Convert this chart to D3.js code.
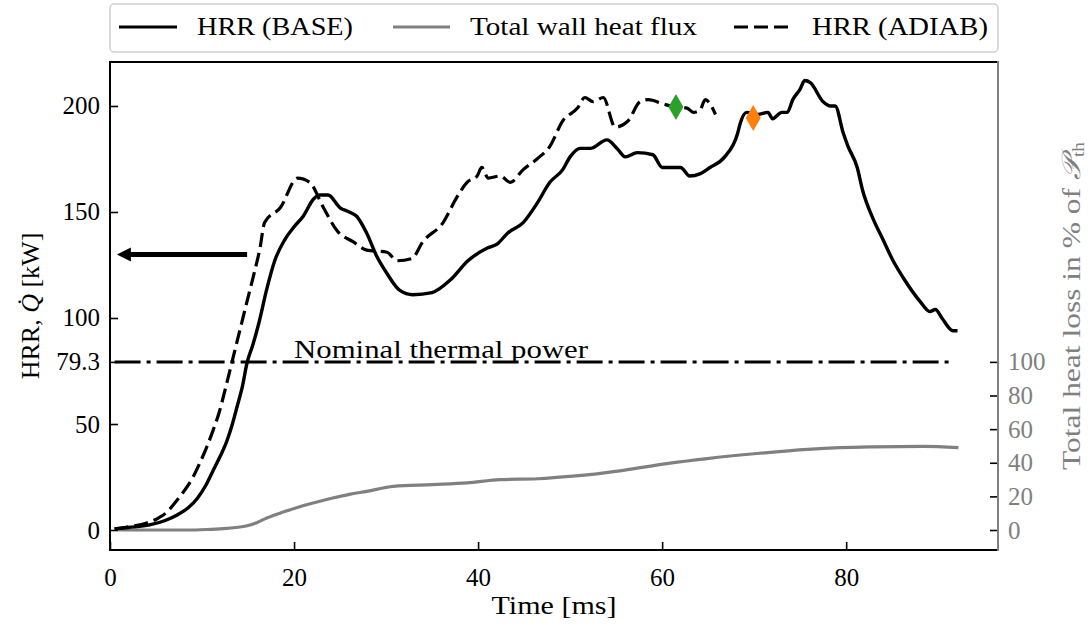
<!DOCTYPE html>
<html>
<head>
<meta charset="utf-8">
<script src="https://cdn.jsdelivr.net/npm/d3@7"></script>
<style>
  body { margin: 0; background: #fff; }
  text { font-family: "Liberation Serif", "DejaVu Serif", serif; }
</style>
</head>
<body>
<svg id="chart" width="1091" height="627"></svg>
<script>
// HRR of the BASE case [kW]
var baseT = [0.5, 2, 4.3, 6, 7.3, 8.5, 9.5, 10.4, 11.2, 12, 12.7, 13.3, 13.8, 14.4, 14.9, 15.5, 16.2, 17.0, 17.9, 19.0, 20.0, 21.0, 22.1, 22.8, 23.7, 25.0, 26.0, 26.8, 27.9, 29.0, 30.1, 31.5, 32.9, 35.0, 37.0, 38.9, 41.0, 42.1, 43.2, 44.9, 46.4, 47.8, 49.2, 50.0, 51.1, 52.2, 54.0, 55.1, 56.0, 57.3, 59.0, 60.0, 62.0, 63.0, 64.1, 65.2, 66.8, 68.2, 68.5, 69.2, 70.4, 71.5, 72.0, 73.0, 73.6, 74.2, 75.0, 75.5, 76.1, 77.5, 78.3, 78.8, 79.7, 80.2, 81.2, 81.8, 82.8, 84.0, 85.1, 86.2, 88.0, 89.1, 89.7, 90.4, 91.6, 92.1]
var baseV = [0.5, 1.2, 2.4, 4.5, 7.1, 10.5, 15, 21, 28, 35, 42, 50, 58, 68, 79, 87, 98, 113, 127, 137, 143, 148, 156, 158, 158, 152, 150, 148, 140, 129, 121, 113, 111, 112, 118, 127, 133, 135, 140, 145, 154, 164, 170, 176, 180, 180, 184, 180, 176, 178, 177, 171, 171, 167, 168, 171, 176, 187, 192, 197, 196, 197, 194, 197, 197, 203, 208, 212, 211, 202, 200, 200, 187, 181, 171, 160, 148, 137, 127, 119, 108, 103, 104, 100, 94, 94]

// HRR of the adiabatic case [kW]
var adiabT = [0.5, 2, 4.0, 5.2, 6.2, 7.0, 7.9, 8.9, 9.8, 10.5, 11.2, 11.9, 12.5, 13.3, 14.1, 14.9, 15.6, 16.3, 16.8, 18.5, 20.4, 21.7, 23.2, 24.7, 26.4, 27.9, 30.1, 31.2, 32.8, 34.0, 36.2, 37.7, 38.8, 39.9, 40.4, 41.1, 42.4, 43.5, 44.9, 46.4, 47.8, 49.2, 50.8, 51.6, 52.5, 53.6, 54.9, 56.3, 57.6, 58.5, 60.1, 60.9, 62.7, 63.4, 64.1, 64.7, 65.2, 65.8]
var adiabV = [0.5, 1.5, 3.3, 5.5, 8.5, 12.5, 17.5, 24, 32, 39, 47, 56, 66, 80, 94, 108, 120, 133, 145, 152, 166, 164, 152, 141, 136, 132, 131, 127, 128, 136, 145, 157, 164, 167, 171, 166, 167, 164, 170, 175, 181, 193, 199, 204, 202, 204, 190, 193, 202, 203, 201, 200, 199, 197, 198, 203, 201, 196]

// total wall heat loss [% of nominal power]
var wallT = [0.9, 5, 8.4, 10.5, 12.3, 13.7, 14.9, 16, 17.1, 18.9, 20.7, 22.5, 24.2, 26, 27.9, 30.8, 35.1, 38.8, 42.4, 46.5, 50.3, 55.8, 60.5, 64.9, 70.3, 75.8, 79.3, 82.9, 88.4, 92.2]
var wallP = [0, 0, 0, 0.3, 0.8, 1.5, 2.5, 4.5, 7.3, 10.8, 14, 16.7, 19, 21.2, 23, 26, 27, 28, 30, 30.5, 32, 35.5, 39.5, 42.5, 45.5, 48, 49, 49.5, 49.8, 49]

var nominalPower = 79.3
var nominalRange = [0.5, 91.5]
var markerGreen = [61.5, 199.5]
var markerOrange = [69.9, 194.3]
var arrowFrom = [14.9, 130]
var arrowTo = [0.75, 130]

var xTicks = [0, 20, 40, 60, 80]
var yTicks = [0, 50, 79.3, 100, 150, 200]
var yRightTicks = [0, 20, 40, 60, 80, 100]
var legendNames = ['HRR (BASE)', 'Total wall heat flux', 'HRR (ADIAB)']

var L = 110, R = 998, T = 62, B = 550
var grey = '#808080'
var svg = d3.select('#chart')

var x = d3.scaleLinear().domain([0, 96.5]).range([L, R])
var y = d3.scaleLinear().domain([-9.43, 220.75]).range([B, T])
var yR = d3.scaleLinear().domain([-9.43 * 100 / nominalPower, 220.75 * 100 / nominalPower]).range([B, T])

function zipped(a, b) { return a.map(function(d, i) { return [d, b[i]] }) }

var line = d3.line()
  .x(function(d) { return x(d[0]) })
  .y(function(d) { return y(d[1]) })
  .curve(d3.curveMonotoneX)
var lineR = d3.line()
  .x(function(d) { return x(d[0]) })
  .y(function(d) { return yR(d[1]) })
  .curve(d3.curveMonotoneX)

// nominal thermal power
svg.append('line')
  .attr('x1', x(nominalRange[0])).attr('x2', x(nominalRange[1]))
  .attr('y1', y(nominalPower)).attr('y2', y(nominalPower))
  .attr('stroke', '#000').attr('stroke-width', 3)
  .attr('stroke-dasharray', '26,6,4,6')
svg.append('text')
  .attr('x', x(20)).attr('y', y(nominalPower) - 4)
  .attr('font-size', 25)
  .attr('textLength', 294).attr('lengthAdjust', 'spacingAndGlyphs')
  .text('Nominal thermal power')

// curves
svg.append('path').datum(zipped(wallT, wallP))
  .attr('d', lineR).attr('fill', 'none')
  .attr('stroke', grey).attr('stroke-width', 3.2)
svg.append('path').datum(zipped(adiabT, adiabV))
  .attr('d', line).attr('fill', 'none')
  .attr('stroke', '#000').attr('stroke-width', 3.2)
  .attr('stroke-dasharray', '14,6')
svg.append('path').datum(zipped(baseT, baseV))
  .attr('d', line).attr('fill', 'none')
  .attr('stroke', '#000').attr('stroke-width', 3.4)
  .attr('stroke-linejoin', 'round')

// markers
var diamond = 'M0,-13L7.5,0L0,13L-7.5,0Z'
svg.append('path').attr('d', diamond)
  .attr('transform', 'translate(' + x(markerGreen[0]) + ',' + y(markerGreen[1]) + ')')
  .attr('fill', '#2ca02c')
svg.append('path').attr('d', diamond)
  .attr('transform', 'translate(' + x(markerOrange[0]) + ',' + y(markerOrange[1]) + ')')
  .attr('fill', '#ff7f0e')

// arrow pointing to the left axis
var ay = y(arrowFrom[1])
svg.append('line')
  .attr('x1', x(arrowFrom[0])).attr('x2', x(arrowTo[0]) + 10)
  .attr('y1', ay).attr('y2', ay)
  .attr('stroke', '#000').attr('stroke-width', 5)
svg.append('path')
  .attr('d', 'M' + x(arrowTo[0]) + ',' + ay + 'l14,-7l0,14z')
  .attr('fill', '#000')

// axes
var gx = svg.append('g').attr('transform', 'translate(0,' + B + ')')
  .call(d3.axisBottom(x).tickValues(xTicks).tickSize(-8).tickPadding(18).tickFormat(d3.format('d')))
var gy = svg.append('g').attr('transform', 'translate(' + L + ',0)')
  .call(d3.axisLeft(y).tickValues(yTicks).tickSize(-8).tickPadding(10).tickFormat(function(d) { return d }))
var gr = svg.append('g').attr('transform', 'translate(' + R + ',0)')
  .call(d3.axisRight(yR).tickValues(yRightTicks).tickSize(-8).tickPadding(10).tickFormat(d3.format('d')))
;[gx, gy, gr].forEach(function(g) {
  g.select('.domain').remove()
  g.selectAll('.tick line').attr('stroke', '#000').attr('stroke-width', 1.6)
  g.selectAll('.tick text').attr('font-size', 25).attr('fill', '#000')
    .style('font-family', '"Liberation Serif", serif')
})
gr.selectAll('.tick text').attr('fill', grey)

// spines
svg.append('path').attr('d', 'M' + R + ',' + T + 'L' + L + ',' + T + 'L' + L + ',' + B + 'L' + R + ',' + B)
  .attr('fill', 'none').attr('stroke', '#000').attr('stroke-width', 2)
svg.append('line').attr('x1', R).attr('x2', R).attr('y1', T - 1).attr('y2', B + 1)
  .attr('stroke', grey).attr('stroke-width', 2)

// axis labels
svg.append('text')
  .attr('x', (L + R) / 2).attr('y', 614)
  .attr('text-anchor', 'middle').attr('font-size', 26)
  .attr('textLength', 125).attr('lengthAdjust', 'spacingAndGlyphs')
  .text('Time [ms]')

var yl = svg.append('text')
  .attr('transform', 'translate(39,' + (T + B) / 2 + ') rotate(-90)')
  .attr('text-anchor', 'middle').attr('font-size', 26)
yl.append('tspan').text('HRR,  ')
yl.append('tspan').attr('font-style', 'italic').text('Q\u0307')
yl.append('tspan').text(' [kW]')

var rl = svg.append('text')
  .attr('transform', 'translate(1080,' + (T + B) / 2 + ') rotate(-90)')
  .attr('text-anchor', 'middle').attr('font-size', 26).attr('fill', grey)
  .attr('textLength', 328).attr('lengthAdjust', 'spacingAndGlyphs')
rl.append('tspan').text('Total heat loss in % of ')
rl.append('tspan').attr('font-style', 'italic').text('\ud835\udcab')
rl.append('tspan').attr('font-size', 16).attr('dy', 4).text('th')

// legend
svg.append('rect')
  .attr('x', 110).attr('y', 4).attr('width', 888).attr('height', 48)
  .attr('rx', 4).attr('fill', '#fff').attr('stroke', '#d0d0d0').attr('stroke-width', 1.5)
var legX = [[119, 177, 197, 156], [393, 450, 470, 227], [734, 790, 812, 176]]
var legStyle = [['#000', null], [grey, null], ['#000', '14,6']]
legendNames.forEach(function(name, i) {
  svg.append('line')
    .attr('x1', legX[i][0]).attr('x2', legX[i][1]).attr('y1', 27).attr('y2', 27)
    .attr('stroke', legStyle[i][0]).attr('stroke-width', 3.2)
    .attr('stroke-dasharray', legStyle[i][1])
  svg.append('text')
    .attr('x', legX[i][2]).attr('y', 35).attr('font-size', 25)
    .attr('textLength', legX[i][3]).attr('lengthAdjust', 'spacingAndGlyphs')
    .text(name)
})
</script>
</body>
</html>
